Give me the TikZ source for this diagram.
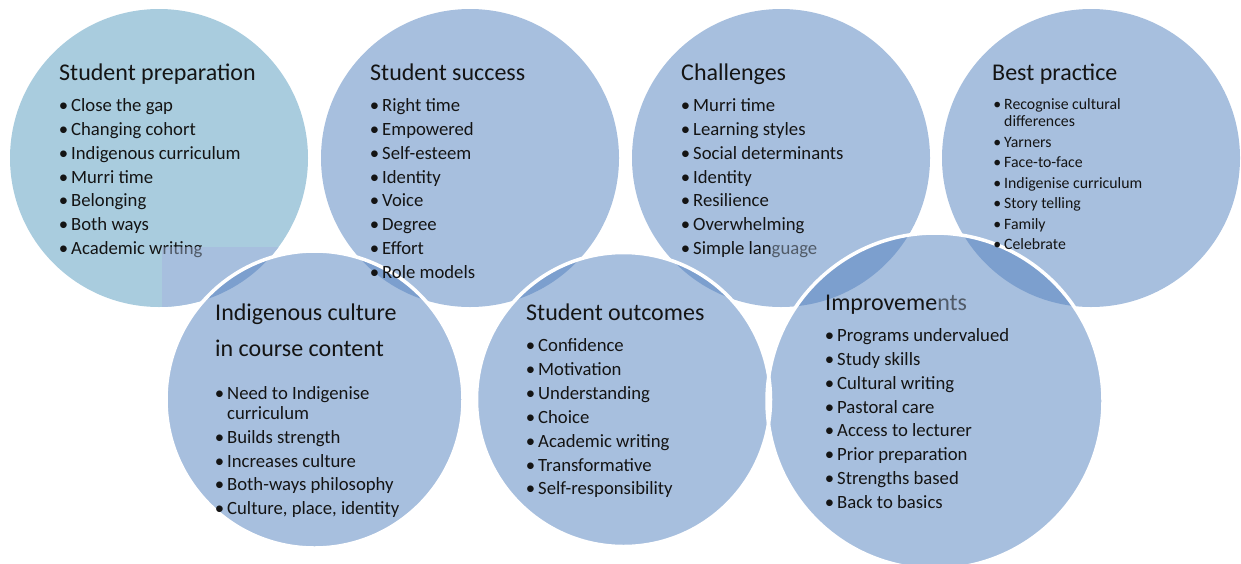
\documentclass[tikz,border=0pt]{standalone}
\usepackage{fontspec}
\setmainfont{Carlito}
\definecolor{cyanfill}{RGB}{169,204,222}
\definecolor{bluefill}{RGB}{167,191,222}
\definecolor{lensfill}{RGB}{124,159,206}
\definecolor{txt}{RGB}{20,20,20}
\newcommand\mybul{\llap{\textbullet\kern3pt}}
\begin{document}
\begin{tikzpicture}[x=1pt,y=-1pt,
  ttl/.style={anchor=base west,inner sep=0pt,text=txt,font=\fontsize{24}{26}\selectfont},
  itm/.style={anchor=base west,inner sep=0pt,text=txt,font=\fontsize{18.7}{20}\selectfont},
  sitm/.style={anchor=base west,inner sep=0pt,text=txt,font=\fontsize{15.8}{17}\selectfont},
  fade/.style={fill=bluefill,opacity=0.42}]
\useasboundingbox (0,0) rectangle (1241,563);
% centres
\coordinate (c1) at (159,158);
\coordinate (c2) at (470,158);
\coordinate (c3) at (781,158);
\coordinate (c4) at (1091,158);
\coordinate (b1) at (314.5,399.5);
\coordinate (b2) at (623.5,399.5);
\coordinate (b3) at (935,401);
% top circles
\fill[cyanfill] (c1) circle[radius=149pt];
\fill[bluefill] (c2) circle[radius=149pt];
\fill[bluefill] (c3) circle[radius=149pt];
\fill[bluefill] (c4) circle[radius=149pt];
% rectangular artefact in the first circle
\begin{scope}
  \clip (c1) circle[radius=149pt];
  \fill[bluefill] (162,247) rectangle (330,330);
\end{scope}
% bottom circles
\fill[bluefill] (b1) circle[radius=148.5pt];
\fill[bluefill] (b2) circle[radius=147pt];
\fill[bluefill] (b3) circle[radius=168pt];
% overlaps
\begin{scope}\clip (c1) circle[radius=149pt]; \fill[lensfill] (b1) circle[radius=148.5pt];\end{scope}
\begin{scope}\clip (c2) circle[radius=149pt]; \fill[lensfill] (b1) circle[radius=148.5pt];\end{scope}
\begin{scope}\clip (c2) circle[radius=149pt]; \fill[lensfill] (b2) circle[radius=147pt];\end{scope}
\begin{scope}\clip (c3) circle[radius=149pt]; \fill[lensfill] (b2) circle[radius=147pt];\end{scope}
\begin{scope}\clip (c3) circle[radius=149pt]; \fill[lensfill] (b3) circle[radius=168pt];\end{scope}
\begin{scope}\clip (c4) circle[radius=149pt]; \fill[lensfill] (b3) circle[radius=168pt];\end{scope}
\begin{scope}\clip (b2) circle[radius=147pt]; \fill[lensfill] (b3) circle[radius=168pt];\end{scope}
% white rims of the lower circles
\draw[white,line width=3.5pt] (b1) circle[radius=148.5pt];
\draw[white,line width=3.5pt] (b2) circle[radius=147pt];
\draw[white,line width=3.5pt] (b3) circle[radius=168pt];
% ---- texts
\node[ttl] (t1) at (59,80) {Student preparation};
\foreach \t [count=\i] in {Close the gap,Changing cohort,Indigenous curriculum,Murri time,Belonging,Both ways,Academic writing}
  \node[itm] (c1-\i) at (71,{111.5+23.85*(\i-1)}) {\mybul\t};
\node[ttl] (t2) at (370,80) {Student success};
\foreach \t [count=\i] in {Right time,Empowered,Self-esteem,Identity,Voice,Degree,Effort,Role models}
  \node[itm] (c2-\i) at (382,{111.5+23.85*(\i-1)}) {\mybul\t};
\node[ttl] (t3) at (681,80) {Challenges};
\foreach \t [count=\i] in {Murri time,Learning styles,Social determinants,Identity,Resilience,Overwhelming,Simple language}
  \node[itm] (c3-\i) at (693,{111.5+23.85*(\i-1)}) {\mybul\t};
\node[ttl] (t4) at (992,80) {Best practice};
\node[sitm] (c4-0) at (1004,109.5) {\mybul Recognise cultural};
\node[sitm] (c4-0b) at (1004,126.5) {differences};
\foreach \t [count=\i] in {Yarners,Face-to-face,Indigenise curriculum,Story telling,Family,Celebrate}
  \node[sitm] (c4-\i) at (1004,{147.5+20.4*(\i-1)}) {\mybul\t};
\node[ttl] (t5) at (215,320) {Indigenous culture};
\node[ttl] (t5b) at (215,356) {in course content};
\node[itm] (b1-0) at (227,399.5) {\mybul Need to Indigenise};
\node[itm] (b1-0b) at (227,419.5) {curriculum};
\foreach \t [count=\i] in {Builds strength,Increases culture,Both-ways philosophy,{Culture, place, identity}}
  \node[itm] (b1-\i) at (227,{443.5+23.7*(\i-1)}) {\mybul\t};
\node[ttl] (t6) at (526,320) {Student outcomes};
\foreach \t [count=\i] in {Confidence,Motivation,Understanding,Choice,Academic writing,Transformative,Self-responsibility}
  \node[itm] (b2-\i) at (538,{351.5+23.9*(\i-1)}) {\mybul\t};
\node[ttl] (t7) at (825,310) {Improvements};
\foreach \t [count=\i] in {Programs undervalued,Study skills,Cultural writing,Pastoral care,Access to lecturer,Prior preparation,Strengths based,Back to basics}
  \node[itm] (b3-\i) at (837,{341.5+23.85*(\i-1)}) {\mybul\t};
% faded text where layers overlap
\fill[fade] (162,247) rectangle (215,262);
\fill[fade] (771,236) rectangle (822,258);
\fill[fade] (939,288) rectangle (975,314);
\end{tikzpicture}
\end{document}
